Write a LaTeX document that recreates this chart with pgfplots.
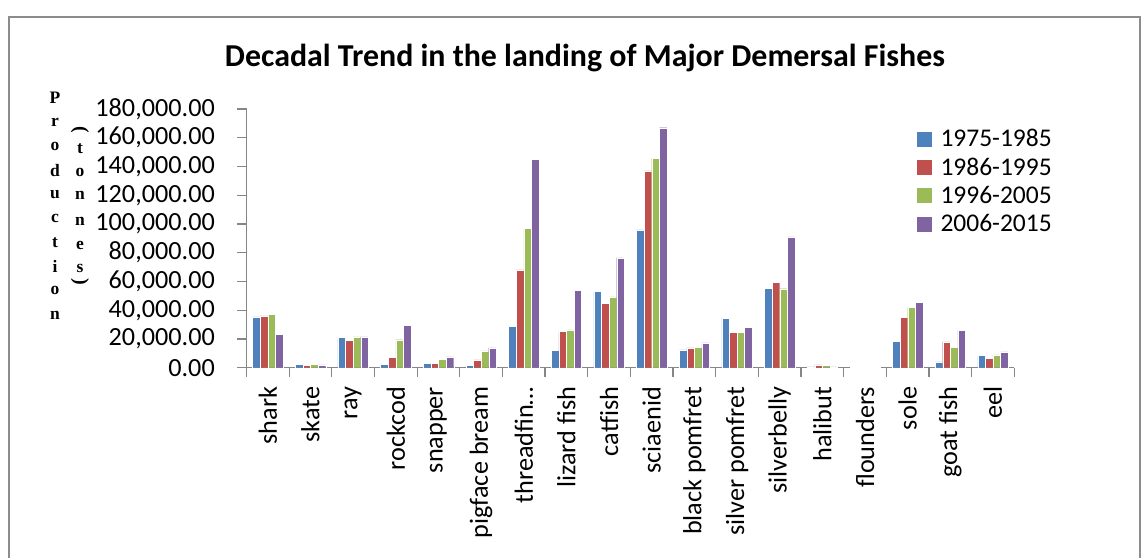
\documentclass[border=0pt]{standalone}
\usepackage{pgfplots}
\pgfplotsset{compat=1.18}
\usepackage{fontspec}
\setmainfont{Carlito}
\newfontfamily\serifb{Liberation Serif}
\definecolor{sA}{HTML}{4F81BD}
\definecolor{sB}{HTML}{C0504D}
\definecolor{sC}{HTML}{9BBB59}
\definecolor{sD}{HTML}{8064A2}
\definecolor{axgray}{HTML}{868686}
\definecolor{framegray}{HTML}{8C8C8C}
\begin{document}
\begin{tikzpicture}
\useasboundingbox (0,0) rectangle (1148bp,558bp);
\draw[framegray, line width=2bp] (8.5bp,0bp) -- (8.5bp,541.3bp) -- (1140bp,541.3bp) -- (1140bp,0bp);
\node[font=\fontsize{31.9bp}{36bp}\selectfont\bfseries] at (585bp,500bp) {Decadal Trend in the landing of Major Demersal Fishes};
% y label stacked letters
\foreach \ch [count=\i from 0] in {P,r,o,d,u,c,t,i,o,n}
  \node[font=\fontsize{17.5bp}{19bp}\serifb\bfseries, inner sep=0pt] at (55bp,{558bp-98bp-\i*24.1bp}) {\ch};
\foreach \ch/\yy in {t/149,o/172,n/195,n/221,e/245,s/268}
  \node[font=\fontsize{17.5bp}{19bp}\serifb\bfseries, inner sep=0pt] at (80bp,{558bp-\yy bp}) {\ch};
\node[font=\fontsize{20bp}{22bp}\serifb\bfseries, inner sep=0pt, anchor=center, rotate=270] at (80bp,{558bp-130bp}) {(};
\node[font=\fontsize{20bp}{22bp}\serifb\bfseries, inner sep=0pt, anchor=center, rotate=270] at (80bp,{558bp-282bp}) {)};
\begin{axis}[
  at={(246.5bp,190.3bp)}, anchor=south west,
  scale only axis, width=767.8bp, height=258.7bp,
  ybar=0pt, bar width=7.6bp,
  xmin=-0.5, xmax=17.5, ymin=0, ymax=180000,
  axis x line*=bottom, axis y line*=left,
  axis line style={axgray, line width=1.2bp},
  every tick/.style={axgray, line width=1.2bp},
  tick align=outside,
  major tick length=9.5bp,
  xtick={-0.5,0.5,...,17.5},
  xticklabels={},
  extra x ticks={0,...,17},
  extra x tick labels={shark,skate,ray,rockcod,snapper,pigface bream,threadfin…,lizard fish,catfish,sciaenid,black pomfret,silver pomfret,silverbelly,halibut,flounders,sole,goat fish,eel},
  extra x tick style={major tick length=0pt},
  ytick={0,20000,...,180000},
  scaled y ticks=false,
  yticklabel style={/pgf/number format/fixed, /pgf/number format/fixed zerofill, /pgf/number format/precision=2, /pgf/number format/1000 sep={,}, /pgf/number format/assume math mode=true},
  yticklabel style={font=\fontsize{26.2bp}{28bp}\selectfont, inner sep=0bp, xshift=-22bp},
  xticklabel style={font=\fontsize{26.2bp}{28bp}\selectfont, yshift=-19bp, rotate=90, anchor=east, inner sep=0bp},
  legend style={draw=none, fill=none, at={(0.872,0.93)}, anchor=north west,
    font=\fontsize{25.5bp}{28bp}\selectfont, row sep=5.5bp, inner sep=0pt,
    /tikz/every odd column/.append style={column sep=6bp}},
  legend cell align=left,
  legend image code/.code={\fill[#1] (0bp,-8bp) rectangle (16bp,8bp);},
  clip=false,
]
\addplot[fill=sA, draw=white, line width=0.3bp] coordinates {(0,35400) (1,2500) (2,21000) (3,2500) (4,3000) (5,1500) (6,28700) (7,12200) (8,53000) (9,95900) (10,12400) (11,34500) (12,55400) (13,500) (14,100) (15,18400) (16,4000) (17,8500)};
\addplot[fill=sB, draw=white, line width=0.3bp] coordinates {(0,36000) (1,1500) (2,19000) (3,7000) (4,3000) (5,5500) (6,68000) (7,25300) (8,44800) (9,137000) (10,13800) (11,24800) (12,59300) (13,2000) (14,100) (15,35200) (16,18000) (17,6400)};
\addplot[fill=sC, draw=white, line width=0.3bp] coordinates {(0,37000) (1,2500) (2,21500) (3,19500) (4,6000) (5,11700) (6,96800) (7,26400) (8,49200) (9,145500) (10,14200) (11,24800) (12,55000) (13,1500) (14,100) (15,42000) (16,14200) (17,9000)};
\addplot[fill=sD, draw=white, line width=0.3bp] coordinates {(0,23000) (1,2000) (2,21500) (3,29600) (4,7500) (5,13800) (6,144800) (7,54000) (8,76500) (9,167000) (10,17200) (11,28000) (12,91000) (13,500) (14,100) (15,45500) (16,26000) (17,11000)};
\legend{1975-1985,1986-1995,1996-2005,2006-2015}
\end{axis}
\end{tikzpicture}
\end{document}
